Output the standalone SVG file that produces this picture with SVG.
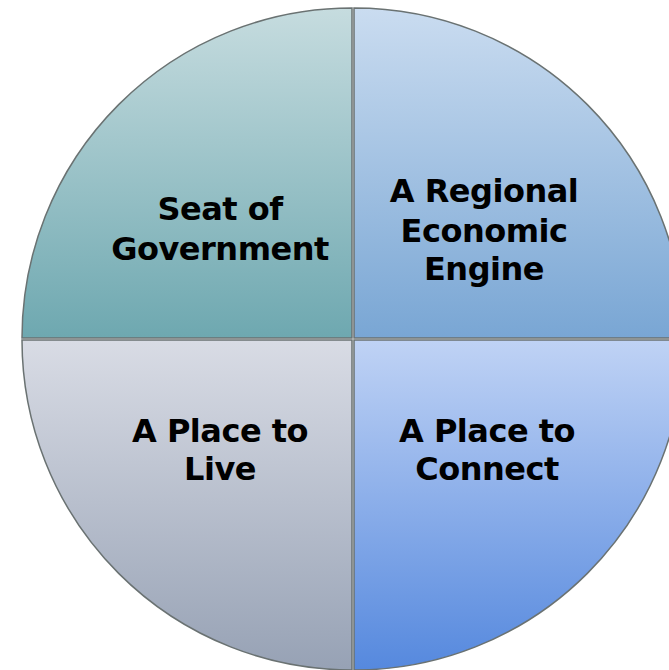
<svg xmlns="http://www.w3.org/2000/svg" width="669" height="670" viewBox="0 0 669 670">
<defs>
<linearGradient id="gTL" gradientUnits="userSpaceOnUse" x1="0" y1="8" x2="0" y2="338"><stop offset="0" stop-color="#c6dcdf"/><stop offset="1" stop-color="#6ea8b0"/></linearGradient>
<linearGradient id="gTR" gradientUnits="userSpaceOnUse" x1="0" y1="8" x2="0" y2="338"><stop offset="0" stop-color="#cadcf0"/><stop offset="1" stop-color="#79a6d4"/></linearGradient>
<linearGradient id="gBL" gradientUnits="userSpaceOnUse" x1="0" y1="338" x2="0" y2="668"><stop offset="0" stop-color="#d9dce5"/><stop offset="1" stop-color="#97a2b5"/></linearGradient>
<linearGradient id="gBR" gradientUnits="userSpaceOnUse" x1="0" y1="338" x2="0" y2="668"><stop offset="0" stop-color="#c0d3f5"/><stop offset="1" stop-color="#5689de"/></linearGradient>
</defs>
<style>
.q{stroke:#6a7272;stroke-width:1.5}
.t{font-family:"DejaVu Sans",sans-serif;font-weight:bold;font-size:32px;letter-spacing:-0.5px;fill:#000;text-anchor:middle}
</style>
<rect width="669" height="670" fill="#fff"/>
<g id="seat-of-government">
<path class="q" fill="url(#gTL)" d="M352,338 L22,338 A330,330 0 0 1 352,8 Z"/>
<text class="t" x="220" y="220">Seat of</text>
<text class="t" x="220" y="260">Government</text>
</g>
<g id="regional-economic-engine">
<path class="q" fill="url(#gTR)" d="M354,338 L354,8 A330,330 0 0 1 684,338 Z"/>
<text class="t" x="484" y="202">A Regional</text>
<text class="t" x="484" y="242">Economic</text>
<text class="t" x="484" y="280">Engine</text>
</g>
<g id="place-to-live">
<path class="q" fill="url(#gBL)" d="M352,340 L352,670 A330,330 0 0 1 22,340 Z"/>
<text class="t" x="220" y="442">A Place to</text>
<text class="t" x="220" y="480">Live</text>
</g>
<g id="place-to-connect">
<path class="q" fill="url(#gBR)" d="M354,340 L684,340 A330,330 0 0 1 354,670 Z"/>
<text class="t" x="487" y="442">A Place to</text>
<text class="t" x="487" y="480">Connect</text>
</g>
</svg>
